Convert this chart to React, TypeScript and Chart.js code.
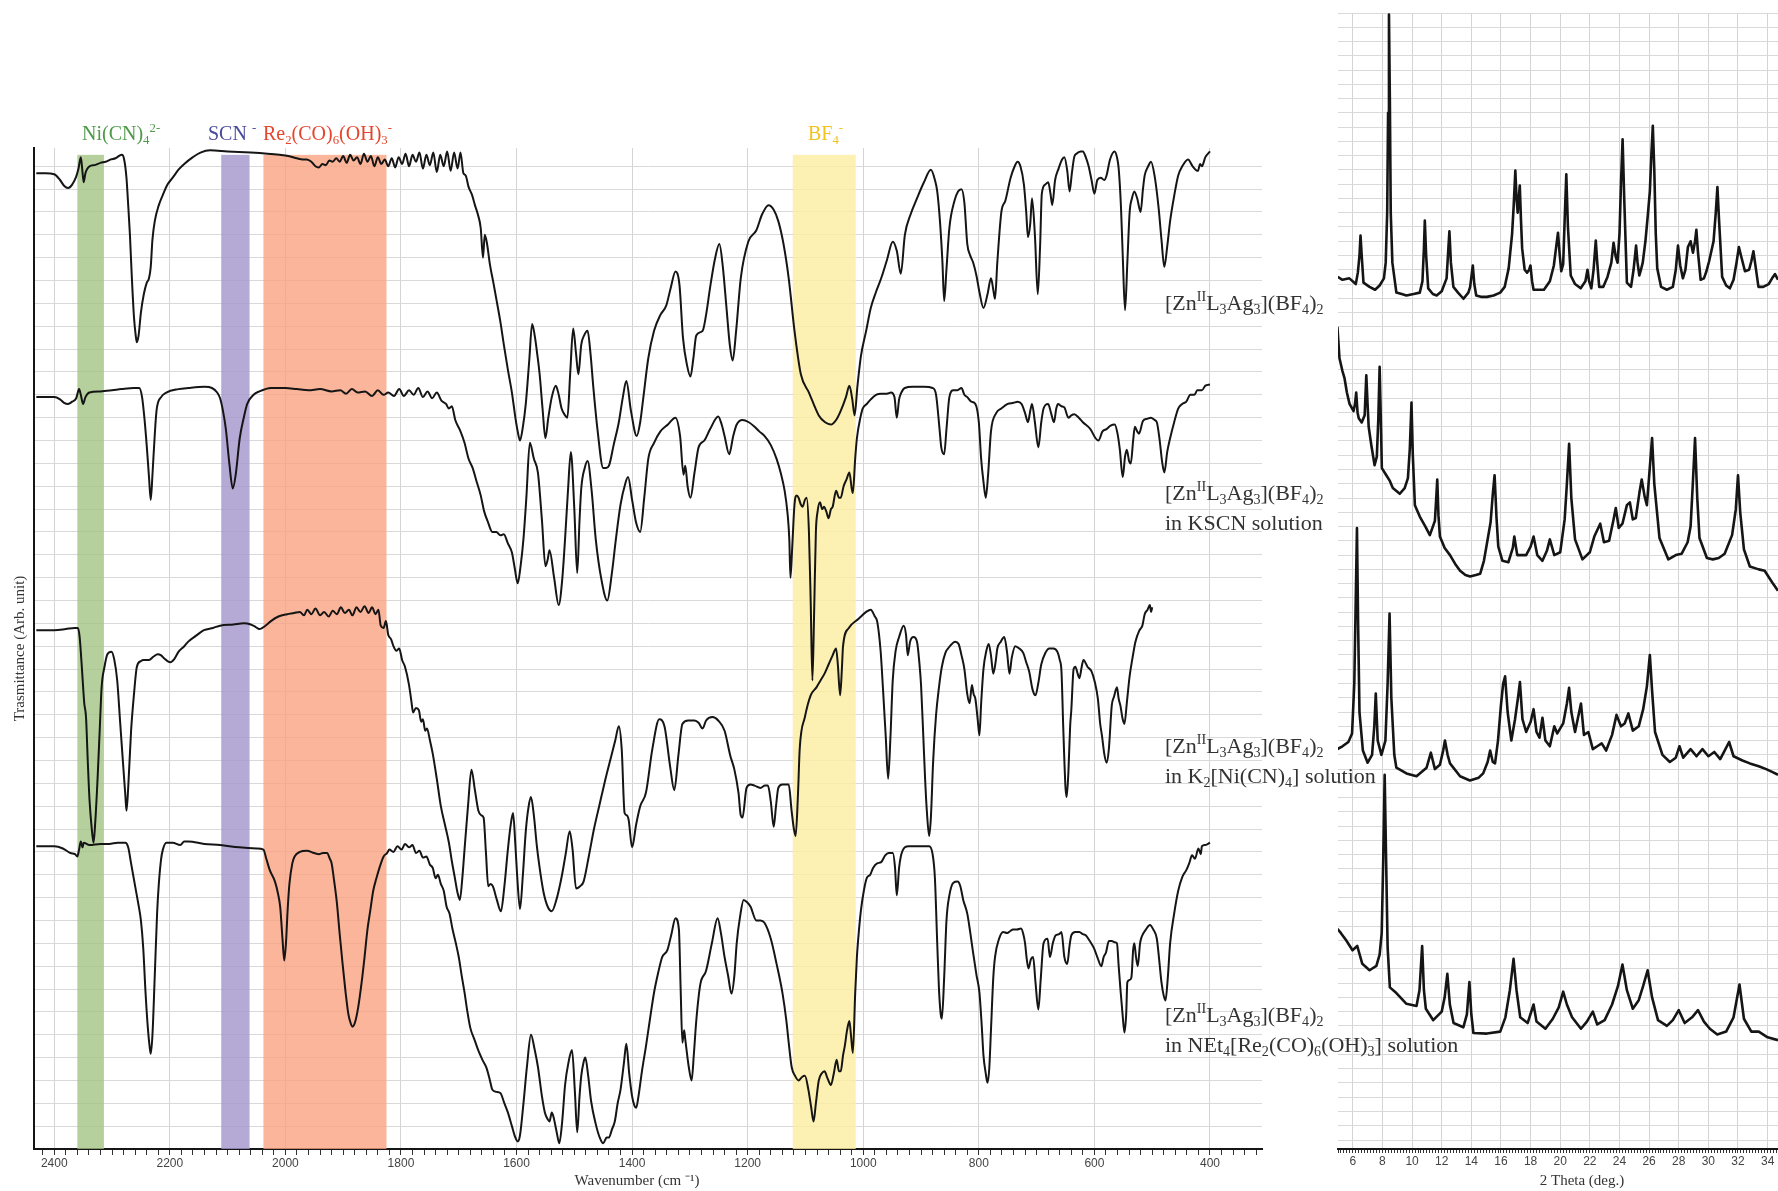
import React, { useEffect, useRef } from "react";
import { Chart, registerables } from "chart.js";

Chart.register(...registerables);

// ---------- IR spectra: [wavenumber (cm-1), transmittance (arb. unit, offset)] ----------
const irPristine: [number, number][] = [
  [2431, 42.7], [2415, 42.7], [2400, 42.65], [2390, 42.4], [2383, 42.15], [2376, 42.05], [2369, 42.2], [2362, 42.55],
  [2358, 42.9], [2354, 43.4], [2352, 43.0], [2349, 42.3], [2346, 42.7], [2339, 43.0], [2330, 43.05], [2320, 43.15],
  [2311, 43.2], [2302, 43.3], [2294, 43.35], [2288, 43.45], [2283, 43.5], [2279, 43.3], [2275, 42.5], [2272, 41.3],
  [2269, 40.0], [2266, 38.3], [2262, 36.4], [2259, 35.6], [2257, 35.3], [2254, 35.6], [2250, 36.6], [2245, 37.4],
  [2240, 37.9], [2236, 38.1], [2233, 38.6], [2230, 39.8], [2226, 40.6], [2219, 41.3], [2212, 41.75], [2204, 42.2],
  [2195, 42.5], [2185, 42.85], [2175, 43.1], [2160, 43.4], [2147, 43.6], [2130, 43.7], [2100, 43.65], [2060, 43.6],
  [2031, 43.55], [2010, 43.5], [1995, 43.45], [1980, 43.35], [1970, 43.3], [1963, 43.3], [1955, 43.2], [1948, 43.0],
  [1942, 42.95], [1936, 43.1], [1930, 43.05], [1924, 43.25], [1918, 43.2], [1912, 43.35], [1906, 43.2], [1900, 43.45],
  [1894, 43.15], [1888, 43.5], [1882, 43.25], [1876, 43.4], [1870, 43.1], [1864, 43.55], [1858, 43.2], [1852, 43.45],
  [1846, 43.0], [1840, 43.4], [1834, 43.1], [1828, 43.3], [1822, 43.0], [1816, 43.35], [1810, 42.95], [1804, 43.4],
  [1798, 43.1], [1792, 43.55], [1786, 43.0], [1780, 43.5], [1774, 43.2], [1768, 43.6], [1762, 42.9], [1756, 43.5],
  [1750, 43.05], [1744, 43.6], [1738, 42.75], [1732, 43.5], [1726, 43.0], [1720, 43.65], [1714, 42.8], [1708, 43.6],
  [1702, 42.9], [1697, 43.6], [1692, 42.7], [1688, 42.6], [1683, 42.1], [1677, 41.75], [1672, 41.3], [1667, 40.9],
  [1662, 40.3], [1658, 39.0], [1655, 40.0], [1651, 39.6], [1646, 38.7], [1640, 37.9], [1635, 37.2], [1628, 36.2],
  [1622, 35.2], [1615, 34.1], [1608, 33.1], [1602, 32.0], [1598, 31.4], [1594, 31.0], [1589, 31.6], [1584, 32.6],
  [1578, 34.5], [1573, 36.1], [1568, 35.5], [1564, 34.75], [1560, 33.9], [1555, 32.4], [1550, 31.1], [1545, 32.0],
  [1539, 32.9], [1532, 33.4], [1527, 33.0], [1522, 32.4], [1516, 32.1], [1512, 32.0], [1507, 34.0], [1502, 35.9],
  [1497, 34.8], [1493, 33.9], [1488, 35.2], [1483, 35.6], [1477, 35.8], [1472, 34.8], [1467, 33.3], [1460, 31.5],
  [1450, 29.8], [1445, 29.8], [1440, 29.9], [1432, 30.8], [1423, 31.8], [1416, 32.9], [1410, 33.6], [1402, 32.3],
  [1392, 31.2], [1386, 31.8], [1380, 33.0], [1372, 34.6], [1362, 35.8], [1351, 36.5], [1341, 36.9], [1333, 37.7],
  [1325, 38.4], [1318, 37.8], [1312, 35.5], [1305, 34.3], [1299, 33.8], [1294, 34.6], [1289, 35.6], [1278, 35.8],
  [1272, 36.5], [1265, 37.7], [1257, 38.9], [1249, 39.6], [1243, 38.6], [1237, 36.9], [1231, 35.2], [1226, 34.5],
  [1220, 35.8], [1212, 38.1], [1199, 39.7], [1185, 40.2], [1175, 40.9], [1164, 41.3], [1155, 41.1], [1147, 40.6],
  [1138, 39.6], [1129, 38.1], [1119, 35.8], [1108, 33.9], [1094, 33.1], [1077, 32.1], [1066, 31.8], [1056, 31.7],
  [1047, 31.9], [1039, 32.3], [1030, 32.9], [1024, 33.4], [1019, 32.8], [1015, 32.1], [1010, 33.4], [1004, 34.7],
  [995, 35.8], [987, 36.8], [978, 37.5], [969, 38.1], [959, 38.9], [949, 39.7], [942, 39.3], [935, 38.3], [928, 40.0],
  [918, 40.9], [907, 41.6], [895, 42.3], [883, 42.85], [876, 42.4], [872, 41.9], [867, 40.5], [863, 38.8], [860, 37.1],
  [856, 38.5], [851, 40.3], [842, 41.5], [836, 41.9], [830, 42.0], [825, 41.4], [820, 39.6], [815, 39.1], [810, 38.8],
  [804, 38.2], [799, 37.5], [792, 36.8], [785, 37.4], [779, 38.1], [775, 37.6], [772, 37.2], [768, 38.8], [761, 41.0],
  [754, 41.5], [745, 42.5], [738, 43.0], [733, 43.2], [728, 43.0], [722, 42.2], [718, 41.0], [715, 39.9], [711, 40.5],
  [708, 41.6], [703, 40.0], [698, 37.4], [694, 39.5], [691, 41.8], [685, 42.2], [680, 42.3], [676, 41.8], [673, 41.3],
  [668, 42.4], [662, 42.9], [656, 43.3], [652, 43.4], [647, 42.8], [643, 41.9], [639, 42.7], [635, 43.4], [631, 43.55],
  [624, 43.65], [620, 43.65], [615, 43.4], [610, 43.0], [605, 42.4], [600, 41.8], [595, 42.4], [589, 42.5], [583, 42.4],
  [579, 42.6], [573, 43.3], [565, 43.65], [561, 43.4], [558, 42.9], [554, 41.2], [551, 39.1], [547, 36.7], [543, 38.8],
  [539, 41.0], [535, 41.6], [531, 41.9], [526, 41.6], [520, 41.0], [516, 42.0], [513, 42.6], [507, 43.0], [502, 43.2],
  [496, 42.6], [489, 41.2], [484, 39.8], [479, 38.6], [474, 39.5], [469, 40.6], [462, 41.7], [455, 42.6], [448, 43.0],
  [438, 43.3], [430, 43.0], [421, 42.8], [417, 43.1], [414, 43.0], [408, 43.4], [400, 43.65],
];

const irKSCN: [number, number][] = [
  [2431, 32.9], [2400, 32.9], [2390, 32.8], [2383, 32.65], [2376, 32.6], [2369, 32.7], [2362, 32.85], [2357, 33.25],
  [2354, 33.0], [2350, 32.6], [2346, 32.9], [2339, 33.1], [2320, 33.15], [2300, 33.2], [2284, 33.25], [2262, 33.3],
  [2253, 33.3], [2248, 32.9], [2244, 32.0], [2240, 30.8], [2236, 29.4], [2233, 28.4], [2230, 29.5], [2228, 30.4],
  [2223, 32.3], [2215, 32.9], [2206, 33.1], [2185, 33.25], [2168, 33.3], [2140, 33.35], [2127, 33.3], [2118, 33.1],
  [2113, 32.85], [2108, 32.3], [2103, 31.5], [2097, 30.0], [2091, 28.9], [2086, 29.5], [2079, 31.1], [2072, 32.0],
  [2066, 32.6], [2055, 33.0], [2045, 33.15], [2025, 33.3], [2000, 33.3], [1980, 33.25], [1960, 33.2], [1940, 33.25],
  [1920, 33.15], [1905, 33.2], [1895, 33.05], [1885, 33.25], [1875, 33.1], [1862, 33.15], [1850, 32.95], [1840, 33.2],
  [1830, 33.0], [1822, 33.1], [1812, 32.95], [1803, 33.25], [1795, 32.95], [1786, 33.2], [1778, 33.0], [1770, 33.3],
  [1762, 32.9], [1754, 33.15], [1746, 32.85], [1738, 33.1], [1730, 32.75], [1722, 32.6], [1717, 32.4], [1712, 32.5],
  [1706, 31.9], [1697, 31.4], [1690, 30.9], [1683, 30.2], [1676, 29.8], [1669, 29.2], [1662, 28.6], [1656, 27.9],
  [1649, 27.4], [1642, 27.0], [1635, 27.0], [1628, 26.85], [1622, 26.9], [1615, 26.5], [1608, 26.1], [1603, 25.4],
  [1598, 24.75], [1593, 25.5], [1588, 26.7], [1583, 28.5], [1577, 30.9], [1570, 30.2], [1563, 29.6], [1556, 27.5],
  [1550, 25.5], [1546, 25.8], [1543, 26.2], [1535, 25.0], [1527, 23.8], [1521, 24.9], [1516, 26.7], [1511, 28.8],
  [1506, 30.5], [1500, 28.0], [1495, 25.2], [1491, 27.5], [1488, 28.9], [1482, 29.8], [1477, 30.1], [1470, 28.8],
  [1463, 26.7], [1453, 24.9], [1443, 24.0], [1435, 25.2], [1428, 26.7], [1420, 28.2], [1412, 29.1], [1407, 29.4],
  [1400, 28.4], [1393, 27.4], [1386, 27.0], [1379, 28.5], [1372, 30.2], [1362, 30.9], [1351, 31.4], [1338, 31.7],
  [1325, 32.0], [1317, 31.2], [1311, 29.5], [1308, 29.9], [1304, 29.0], [1299, 28.5], [1292, 29.6], [1285, 30.7],
  [1275, 31.0], [1265, 31.5], [1251, 32.05], [1245, 31.7], [1240, 31.2], [1232, 30.4], [1225, 31.2], [1219, 31.7],
  [1209, 31.9], [1198, 31.8], [1188, 31.6], [1180, 31.4], [1171, 31.2], [1160, 30.8], [1150, 30.2], [1143, 29.6],
  [1136, 28.8], [1131, 27.8], [1128, 26.7], [1126, 25.0], [1123, 26.3], [1119, 28.2], [1115, 28.6], [1112, 28.5],
  [1108, 28.2], [1105, 28.1], [1101, 28.4], [1098, 28.5], [1094, 27.0], [1091, 24.0], [1088, 20.5], [1085, 23.5],
  [1082, 27.0], [1079, 27.9], [1075, 28.3], [1071, 28.0], [1068, 28.1], [1064, 27.9], [1060, 27.6], [1056, 28.0],
  [1053, 28.1], [1047, 28.8], [1042, 28.5], [1039, 28.5], [1034, 29.0], [1029, 29.3], [1024, 29.6], [1020, 28.9],
  [1018, 28.7], [1014, 30.2], [1011, 31.1], [1005, 32.0], [1001, 32.4], [994, 32.6], [987, 32.8], [978, 33.0],
  [969, 33.05], [959, 33.05], [952, 33.1], [946, 32.9], [942, 32.0], [938, 32.8], [935, 33.05], [928, 33.3],
  [915, 33.35], [895, 33.35], [880, 33.3], [874, 33.0], [868, 31.5], [865, 30.7], [860, 30.4], [856, 31.5], [851, 32.9],
  [844, 33.2], [837, 33.2], [830, 33.3], [825, 33.0], [820, 32.9], [813, 32.7], [806, 32.6], [800, 31.8], [796, 30.2],
  [792, 29.2], [788, 28.5], [784, 29.5], [779, 31.4], [770, 32.2], [761, 32.4], [750, 32.6], [740, 32.65], [733, 32.7],
  [726, 32.6], [720, 32.2], [715, 31.8], [711, 32.3], [708, 32.6], [703, 31.8], [697, 30.7], [692, 31.8], [688, 32.4],
  [680, 32.6], [675, 32.2], [670, 31.8], [666, 32.4], [663, 32.6], [657, 32.5], [652, 32.45], [645, 32.0], [640, 32.1],
  [635, 32.15], [627, 32.0], [620, 31.8], [607, 31.5], [598, 31.1], [593, 31.0], [586, 31.4], [579, 31.5], [572, 31.65],
  [565, 31.7], [560, 31.3], [556, 30.6], [551, 29.4], [547, 30.3], [544, 30.6], [540, 30.1], [537, 30.0], [533, 31.0],
  [530, 31.6], [526, 31.4], [523, 31.3], [516, 31.85], [509, 31.95], [502, 32.0], [496, 31.9], [492, 31.8], [487, 31.0],
  [483, 30.1], [479, 29.6], [474, 30.5], [469, 31.1], [462, 31.8], [455, 32.4], [448, 32.6], [441, 32.7], [434, 33.0],
  [427, 33.0], [422, 33.2], [414, 33.2], [408, 33.4], [400, 33.45],
];

const irNiCN: [number, number][] = [
  [2431, 22.7], [2400, 22.7], [2380, 22.75], [2365, 22.8], [2359, 22.8], [2356, 22.4], [2352, 21.0], [2348, 19.5],
  [2345, 18.9], [2342, 17.0], [2339, 15.3], [2335, 14.0], [2332, 13.4], [2329, 14.3], [2325, 16.2], [2321, 18.5],
  [2318, 20.2], [2313, 21.1], [2308, 21.65], [2301, 21.76], [2296, 21.4], [2291, 20.5], [2286, 18.7], [2281, 16.9],
  [2277, 15.5], [2275, 14.8], [2272, 15.8], [2267, 18.3], [2262, 19.9], [2257, 21.1], [2250, 21.35], [2246, 21.4],
  [2236, 21.4], [2228, 21.55], [2221, 21.65], [2215, 21.6], [2209, 21.45], [2204, 21.35], [2199, 21.3], [2192, 21.45],
  [2185, 21.75], [2175, 22.0], [2168, 22.2], [2155, 22.45], [2141, 22.7], [2125, 22.8], [2113, 22.9], [2090, 22.95],
  [2072, 23.0], [2060, 22.95], [2052, 22.85], [2045, 22.75], [2040, 22.8], [2032, 22.95], [2025, 23.1], [2012, 23.3],
  [1997, 23.4], [1985, 23.45], [1975, 23.5], [1968, 23.35], [1962, 23.6], [1955, 23.4], [1948, 23.65], [1940, 23.35],
  [1933, 23.5], [1925, 23.3], [1918, 23.55], [1911, 23.4], [1904, 23.7], [1897, 23.45], [1890, 23.6], [1884, 23.35],
  [1877, 23.7], [1870, 23.5], [1863, 23.75], [1856, 23.45], [1850, 23.7], [1844, 23.4], [1839, 23.6], [1835, 22.9],
  [1830, 22.8], [1826, 23.1], [1822, 22.5], [1817, 22.3], [1813, 22.0], [1808, 21.8], [1803, 21.9], [1798, 21.4],
  [1793, 21.1], [1786, 20.3], [1782, 19.6], [1779, 19.1], [1774, 19.3], [1769, 19.2], [1765, 18.7], [1762, 18.8],
  [1758, 18.3], [1755, 18.4], [1750, 17.9], [1745, 17.3], [1738, 16.2], [1731, 15.0], [1724, 14.2], [1717, 13.4],
  [1712, 12.6], [1707, 11.9], [1702, 11.2], [1698, 10.9], [1694, 11.8], [1690, 13.1], [1684, 15.0], [1678, 16.6],
  [1672, 15.7], [1666, 14.8], [1661, 14.6], [1657, 14.5], [1653, 13.0], [1649, 11.5], [1645, 11.6], [1641, 11.5],
  [1634, 10.9], [1627, 10.4], [1621, 11.5], [1615, 13.1], [1610, 14.2], [1606, 14.7], [1602, 13.3], [1599, 12.0],
  [1594, 10.5], [1589, 12.0], [1584, 13.9], [1579, 15.0], [1575, 15.4], [1570, 14.6], [1565, 13.3], [1560, 12.3],
  [1553, 11.2], [1546, 10.6], [1539, 10.4], [1530, 11.0], [1522, 11.9], [1515, 12.9], [1508, 13.9], [1503, 13.1],
  [1497, 11.4], [1490, 11.5], [1484, 11.7], [1475, 12.8], [1466, 14.0], [1457, 15.0], [1446, 16.2], [1436, 17.2],
  [1429, 17.9], [1423, 18.5], [1418, 17.5], [1413, 14.7], [1409, 14.6], [1406, 14.4], [1400, 13.2], [1393, 14.2],
  [1386, 15.0], [1376, 15.6], [1365, 17.5], [1353, 18.8], [1344, 18.5], [1334, 16.7], [1327, 15.7], [1320, 17.2],
  [1313, 18.6], [1303, 18.75], [1292, 18.75], [1285, 18.65], [1278, 18.4], [1272, 18.75], [1261, 18.9], [1251, 18.75],
  [1240, 18.3], [1230, 17.2], [1223, 16.6], [1216, 15.6], [1212, 14.6], [1209, 14.5], [1202, 15.8], [1195, 15.95],
  [1188, 15.9], [1178, 15.8], [1170, 15.9], [1165, 15.9], [1160, 15.2], [1155, 14.1], [1151, 15.0], [1147, 15.8],
  [1140, 15.95], [1129, 15.95], [1124, 14.8], [1120, 14.0], [1117, 13.7], [1113, 15.5], [1110, 17.5], [1101, 18.9],
  [1091, 19.85], [1081, 20.2], [1074, 20.5], [1067, 20.8], [1060, 21.2], [1053, 21.6], [1047, 21.9], [1044, 21.2],
  [1040, 19.85], [1037, 21.0], [1035, 22.0], [1025, 22.8], [1008, 23.2], [995, 23.5], [987, 23.6], [980, 23.3],
  [976, 23.1], [970, 21.8], [966, 20.2], [961, 18.0], [957, 16.2], [953, 18.0], [949, 20.5], [944, 21.8], [938, 22.4],
  [930, 22.9], [926, 22.5], [923, 21.6], [919, 22.2], [913, 22.4], [907, 22.2], [903, 21.3], [900, 20.3], [896, 18.0],
  [893, 16.2], [890, 14.8], [886, 13.7], [883, 14.5], [879, 17.0], [874, 19.0], [869, 20.2], [864, 21.1], [858, 21.7],
  [850, 22.0], [841, 22.2], [835, 22.1], [830, 21.6], [825, 21.0], [820, 19.9], [816, 19.5], [812, 20.3], [809, 19.9],
  [806, 19.7], [802, 18.8], [799, 18.1], [796, 19.5], [792, 21.0], [787, 21.8], [783, 22.1], [779, 21.6], [775, 20.8],
  [771, 21.3], [768, 21.9], [762, 22.2], [756, 22.4], [751, 21.7], [747, 20.8], [743, 21.5], [737, 22.0], [730, 21.9],
  [723, 21.7], [718, 21.3], [713, 20.9], [707, 20.1], [702, 19.85], [697, 20.4], [692, 21.2], [685, 21.7], [678, 21.9],
  [671, 21.9], [664, 21.75], [660, 21.4], [657, 20.9], [654, 18.5], [652, 17.0], [650, 15.8], [648, 15.4], [645, 16.5],
  [642, 18.5], [640, 19.2], [636, 21.0], [633, 21.1], [629, 20.8], [626, 20.6], [622, 21.1], [619, 21.4], [612, 21.1],
  [605, 20.9], [599, 20.4], [594, 19.7], [590, 18.6], [587, 18.1], [583, 17.3], [579, 16.9], [575, 17.5], [570, 19.4],
  [566, 19.8], [561, 20.2], [558, 19.7], [555, 19.4], [551, 18.8], [548, 18.6], [544, 19.5], [539, 20.7], [534, 21.5],
  [529, 22.2], [522, 22.7], [517, 22.9], [513, 23.4], [508, 23.6], [504, 23.8], [502, 23.5], [500, 23.7],
];

const irReCO: [number, number][] = [
  [2431, 13.25], [2400, 13.25], [2385, 13.15], [2372, 12.95], [2364, 12.9], [2360, 12.8], [2357, 13.1], [2354, 13.45],
  [2351, 13.2], [2349, 13.4], [2339, 13.3], [2320, 13.35], [2305, 13.35], [2290, 13.4], [2277, 13.4], [2272, 13.2],
  [2267, 12.5], [2260, 11.5], [2255, 10.8], [2250, 10.0], [2246, 8.8], [2242, 6.85], [2238, 5.3], [2235, 4.5],
  [2233, 4.17], [2230, 5.0], [2226, 7.6], [2222, 10.3], [2219, 11.6], [2215, 12.7], [2212, 13.1], [2206, 13.4],
  [2195, 13.4], [2182, 13.3], [2175, 13.45], [2168, 13.45], [2140, 13.35], [2113, 13.3], [2080, 13.2], [2050, 13.15],
  [2038, 13.1], [2033, 12.7], [2027, 12.2], [2018, 11.7], [2013, 11.2], [2009, 10.6], [2005, 9.2], [2002, 8.25],
  [1999, 9.0], [1996, 10.5], [1993, 11.6], [1988, 12.5], [1984, 12.8], [1975, 13.0], [1963, 13.05], [1950, 12.95],
  [1942, 12.9], [1935, 12.95], [1928, 12.95], [1923, 12.7], [1920, 12.5], [1916, 11.8], [1911, 10.8], [1906, 9.4],
  [1901, 8.1], [1896, 6.9], [1891, 5.9], [1887, 5.5], [1884, 5.35], [1880, 5.5], [1874, 6.2], [1868, 7.3], [1863, 8.4],
  [1858, 9.6], [1853, 10.45], [1848, 11.3], [1843, 11.8], [1836, 12.4], [1830, 12.8], [1824, 12.95], [1820, 13.1],
  [1813, 13.0], [1806, 13.25], [1799, 13.1], [1793, 13.35], [1786, 13.2], [1780, 13.3], [1774, 12.95], [1768, 13.05],
  [1762, 12.75], [1756, 12.8], [1750, 12.45], [1745, 12.3], [1740, 11.85], [1736, 12.0], [1731, 11.6], [1726, 11.3],
  [1721, 10.6], [1716, 10.3], [1711, 9.65], [1705, 9.0], [1700, 8.4], [1695, 7.6], [1690, 6.85], [1685, 6.0], [1680, 5.3],
  [1673, 4.8], [1666, 4.3], [1659, 3.9], [1652, 3.55], [1646, 3.0], [1642, 2.6], [1635, 2.5], [1628, 2.45], [1621, 2.0],
  [1615, 1.6], [1608, 1.0], [1602, 0.5], [1598, 0.33], [1594, 0.6], [1588, 2.0], [1582, 3.6], [1575, 5.0], [1569, 4.4],
  [1563, 3.6], [1556, 2.3], [1551, 1.6], [1546, 1.3], [1543, 1.2], [1539, 1.6], [1536, 1.4], [1531, 0.8], [1526, 0.25],
  [1521, 1.2], [1516, 2.8], [1510, 3.8], [1504, 4.33], [1499, 2.5], [1495, 0.73], [1491, 2.3], [1488, 3.2], [1484, 3.8],
  [1481, 4.0], [1476, 3.2], [1471, 2.1], [1463, 1.1], [1456, 0.5], [1450, 0.25], [1444, 0.5], [1440, 0.5], [1435, 0.85],
  [1430, 1.2], [1425, 2.0], [1420, 2.6], [1414, 3.8], [1410, 4.6], [1405, 3.3], [1400, 2.3], [1396, 1.9], [1393, 1.8],
  [1389, 2.3], [1383, 3.4], [1376, 4.5], [1369, 5.7], [1362, 6.85], [1355, 7.7], [1348, 8.4], [1339, 8.7], [1332, 9.4],
  [1325, 10.1], [1319, 9.6], [1316, 7.0], [1313, 4.65], [1310, 5.2], [1308, 4.8], [1302, 3.6], [1297, 3.0], [1293, 4.2],
  [1289, 5.6], [1282, 7.2], [1272, 7.8], [1262, 9.0], [1252, 10.1], [1246, 9.4], [1240, 8.4], [1234, 7.6], [1228, 6.8],
  [1223, 7.6], [1219, 9.0], [1213, 10.2], [1207, 10.9], [1201, 10.8], [1195, 10.6], [1185, 10.0], [1178, 10.0],
  [1171, 9.9], [1160, 9.2], [1150, 8.1], [1140, 6.85], [1133, 5.6], [1129, 4.65], [1124, 3.6], [1118, 3.2], [1112, 3.0],
  [1106, 3.15], [1101, 3.2], [1095, 2.6], [1090, 1.8], [1086, 1.2], [1082, 2.0], [1077, 3.0], [1072, 3.3], [1067, 3.4],
  [1062, 3.1], [1056, 2.8], [1051, 3.3], [1046, 3.9], [1042, 3.4], [1039, 3.4], [1035, 4.1], [1032, 4.5], [1028, 5.2],
  [1024, 5.6], [1021, 4.9], [1018, 4.2], [1014, 6.8], [1011, 8.4], [1007, 9.7], [1004, 10.45], [999, 11.3], [994, 11.85],
  [988, 12.0], [983, 12.3], [976, 12.5], [969, 12.55], [962, 12.85], [956, 12.95], [949, 12.95], [945, 12.3], [942, 11.1],
  [938, 12.3], [935, 12.8], [928, 13.2], [921, 13.25], [900, 13.25], [886, 13.25], [880, 12.9], [876, 11.85], [872, 9.0],
  [869, 7.0], [866, 5.9], [864, 5.7], [860, 7.5], [856, 10.0], [851, 11.1], [844, 11.65], [837, 11.7], [832, 11.5],
  [827, 10.9], [820, 10.3], [815, 9.5], [810, 8.6], [804, 7.6], [799, 6.85], [795, 5.4], [792, 4.1], [788, 3.3],
  [785, 2.9], [782, 3.5], [779, 5.2], [775, 7.5], [772, 8.4], [765, 9.2], [758, 9.5], [751, 9.45], [745, 9.55],
  [741, 9.6], [734, 9.6], [727, 9.65], [723, 9.4], [720, 9.0], [717, 8.3], [714, 7.9], [710, 8.3], [706, 8.4], [702, 7.3],
  [697, 6.1], [693, 7.4], [688, 9.0], [681, 9.2], [677, 8.4], [672, 9.0], [667, 9.35], [661, 9.4], [657, 9.5], [652, 8.4],
  [647, 8.1], [643, 8.9], [640, 9.35], [633, 9.5], [626, 9.5], [620, 9.4], [615, 9.35], [608, 9.1], [601, 8.8], [595, 8.4],
  [588, 8.0], [584, 8.4], [580, 8.6], [575, 9.1], [570, 9.1], [565, 9.05], [561, 9.0], [558, 8.0], [555, 7.0], [551, 5.8],
  [548, 5.1], [545, 5.9], [543, 7.3], [539, 7.4], [536, 7.5], [533, 8.7], [531, 9.0], [528, 8.4], [525, 8.0], [521, 9.0],
  [518, 9.3], [511, 9.6], [504, 9.8], [498, 9.6], [492, 9.2], [488, 8.3], [484, 7.3], [480, 6.7], [477, 6.5], [473, 7.5],
  [469, 9.0], [462, 10.3], [455, 11.3], [448, 11.9], [441, 12.2], [436, 12.5], [431, 12.85], [426, 12.7], [420, 13.15],
  [416, 12.9], [414, 13.25], [408, 13.3], [400, 13.4],
];

// Highlighted anion bands (cm-1)
const bandFrom = [2360, 2111, 2038, 1122];
const bandTo = [2314, 2062, 1825, 1013];
const bandFill = ["rgba(160,195,130,0.78)", "rgba(165,150,205,0.82)", "rgba(248,160,125,0.78)", "rgba(252,236,160,0.8)"];
const bandInk = ["#4f9a4a", "#4a4a9c", "#e4452c", "#f2c21e"];

// ---------- PXRD patterns: [2 theta (deg), intensity (arb. unit, offset)] ----------
const xrdPristine: [number, number][] = [
  [4.98, 60.5], [5.3, 60.3], [5.77, 60.4], [6.2, 60.0], [6.34, 60.8], [6.45, 62.0], [6.52, 63.4], [6.6, 62.0],
  [6.72, 60.1], [7.13, 59.8], [7.5, 59.6], [7.81, 59.9], [8.1, 60.4], [8.22, 61.5], [8.32, 65], [8.38, 72], [8.44, 78.9],
  [8.5, 73], [8.56, 65], [8.67, 61.5], [8.94, 59.4], [9.3, 59.3], [9.62, 59.2], [10.1, 59.3], [10.52, 59.4], [10.7, 60.2],
  [10.8, 62.5], [10.86, 64.45], [10.95, 62.0], [11.09, 59.7], [11.4, 59.3], [11.66, 59.2], [12.0, 59.5], [12.33, 60.4],
  [12.45, 62.5], [12.52, 63.7], [12.62, 61.5], [12.79, 59.8], [13.1, 59.4], [13.47, 58.97], [13.8, 59.4], [13.92, 59.8],
  [14.1, 61.3], [14.2, 60.0], [14.33, 59.2], [14.7, 59.1], [15.05, 59.1], [15.5, 59.2], [15.95, 59.4], [16.25, 59.8],
  [16.52, 61.1], [16.75, 63.5], [16.86, 65.5], [16.97, 67.95], [17.05, 66.0], [17.13, 65.0], [17.2, 66.0], [17.27, 66.9],
  [17.35, 64.5], [17.43, 62.5], [17.6, 61.0], [17.76, 60.8], [17.9, 61.0], [17.99, 61.3], [18.1, 60.2], [18.2, 59.6],
  [18.6, 59.6], [18.9, 59.6], [19.3, 60.2], [19.57, 61.3], [19.75, 62.8], [19.85, 63.6], [19.97, 62.0], [20.07, 60.9],
  [20.2, 61.4], [20.3, 64.5], [20.41, 67.7], [20.52, 64.0], [20.71, 60.6], [21.0, 60.0], [21.38, 59.7], [21.7, 60.2],
  [21.84, 61.0], [21.95, 60.2], [22.1, 59.7], [22.25, 61.0], [22.4, 63.05], [22.5, 61.5], [22.63, 59.8], [22.9, 59.8],
  [23.19, 60.5], [23.45, 61.5], [23.6, 62.9], [23.75, 61.9], [23.87, 61.5], [24.0, 63.5], [24.1, 67.0], [24.21, 70.15],
  [24.32, 66.0], [24.5, 60.1], [24.78, 59.8], [24.95, 61.0], [25.12, 62.7], [25.22, 61.5], [25.34, 60.6], [25.45, 61.0],
  [25.57, 61.5], [25.75, 63.0], [25.91, 64.8], [26.05, 66.5], [26.15, 69.0], [26.25, 71.1], [26.35, 68.0], [26.45, 63.5],
  [26.55, 61.1], [26.81, 59.8], [27.2, 59.6], [27.6, 59.8], [27.8, 61.0], [27.95, 62.7], [28.1, 61.3], [28.28, 60.4],
  [28.45, 61.0], [28.62, 62.6], [28.8, 63.0], [28.96, 62.2], [29.1, 63.0], [29.19, 63.8], [29.3, 62.2], [29.48, 60.3],
  [29.7, 60.4], [29.87, 60.9], [30.05, 61.6], [30.2, 62.3], [30.35, 63.0], [30.5, 65.0], [30.61, 66.8], [30.72, 64.5],
  [30.93, 60.5], [31.2, 59.9], [31.45, 59.7], [31.7, 60.3], [31.9, 61.5], [32.06, 62.6], [32.2, 62.0], [32.47, 60.9],
  [32.75, 61.0], [32.9, 61.6], [33.04, 62.3], [33.15, 61.5], [33.38, 59.8], [33.7, 59.8], [34.07, 60.0], [34.3, 60.4],
  [34.5, 60.7], [34.7, 60.3],
];

const xrdKSCN: [number, number][] = [
  [4.96, 57.0], [5.1, 54.8], [5.3, 53.9], [5.44, 53.4], [5.6, 52.4], [5.78, 51.6], [6.05, 51.1], [6.15, 51.6],
  [6.23, 52.4], [6.32, 51.0], [6.4, 50.6], [6.6, 50.3], [6.8, 50.8], [6.91, 53.6], [7.0, 51.5], [7.07, 50.0],
  [7.25, 48.7], [7.47, 47.3], [7.62, 47.9], [7.72, 50.5], [7.81, 54.2], [7.88, 51.0], [7.96, 47.1], [8.26, 46.6],
  [8.5, 46.2], [8.7, 45.7], [9.17, 45.3], [9.5, 45.7], [9.72, 46.4], [9.85, 48.5], [9.96, 51.7], [10.05, 48.0],
  [10.19, 44.5], [10.52, 43.7], [10.9, 43.0], [11.2, 42.4], [11.54, 43.4], [11.62, 44.8], [11.7, 46.3], [11.78, 43.8],
  [11.88, 42.3], [12.2, 41.5], [12.56, 41.0], [12.9, 40.4], [13.24, 39.9], [13.6, 39.6], [13.92, 39.5], [14.3, 39.6],
  [14.6, 39.7], [14.85, 40.6], [15.05, 41.8], [15.3, 43.3], [15.45, 45.3], [15.57, 46.6], [15.7, 43.6], [15.82, 41.6],
  [16.1, 40.6], [16.5, 40.5], [16.8, 41.5], [16.9, 42.3], [17.1, 41.0], [17.7, 41.0], [18.0, 41.6], [18.2, 42.3],
  [18.45, 41.0], [18.8, 40.6], [19.1, 41.3], [19.3, 42.1], [19.6, 41.0], [20.0, 41.2], [20.3, 43.5], [20.45, 46.0],
  [20.6, 48.8], [20.75, 45.0], [21.0, 42.1], [21.5, 40.7], [22.0, 41.2], [22.3, 42.3], [22.7, 43.2], [22.95, 41.9],
  [23.3, 42.0], [23.6, 43.5], [23.75, 44.3], [23.95, 42.9], [24.2, 43.2], [24.5, 44.5], [24.7, 44.7], [24.9, 43.5],
  [25.1, 43.6], [25.35, 45.4], [25.5, 46.3], [25.7, 45.1], [25.85, 44.5], [26.0, 46.5], [26.2, 49.2], [26.35, 46.0],
  [26.7, 42.2], [27.3, 40.7], [27.8, 41.0], [28.2, 41.1], [28.6, 41.9], [28.8, 43.0], [28.95, 46.0], [29.1, 49.2],
  [29.25, 45.0], [29.4, 42.2], [29.9, 40.8], [30.3, 40.7], [30.7, 40.8], [31.1, 41.1], [31.6, 42.4], [31.85, 44.2],
  [32.0, 46.6], [32.15, 44.0], [32.4, 41.4], [32.8, 40.2], [33.4, 40.0], [33.8, 39.9], [34.3, 39.1], [34.7, 38.5],
];

const xrdNiCN: [number, number][] = [
  [4.96, 27.4], [5.3, 27.6], [5.7, 27.9], [5.95, 28.5], [6.1, 32], [6.2, 38], [6.28, 42.9], [6.36, 36], [6.45, 30],
  [6.68, 27.3], [7.0, 26.45], [7.3, 27.0], [7.45, 29.0], [7.55, 31.3], [7.68, 28.0], [7.93, 27.0], [8.2, 28.0],
  [8.35, 32.0], [8.48, 36.9], [8.6, 31.0], [8.8, 27.0], [8.94, 26.1], [9.62, 25.7], [10.3, 25.5], [10.98, 26.1],
  [11.27, 27.15], [11.54, 26.0], [11.88, 26.3], [12.1, 27.3], [12.22, 28.0], [12.4, 27.0], [12.56, 26.4], [13.24, 25.5],
  [13.9, 25.2], [14.5, 25.4], [14.8, 25.7], [15.1, 26.5], [15.27, 27.3], [15.45, 26.5], [15.6, 26.4], [15.8, 28.0],
  [16.0, 30.5], [16.15, 32.0], [16.28, 32.5], [16.45, 30.0], [16.7, 28.0], [16.95, 29.5], [17.15, 31.0], [17.28, 32.1],
  [17.45, 29.5], [17.7, 28.6], [18.0, 29.3], [18.2, 30.2], [18.4, 28.6], [18.6, 28.2], [18.8, 29.6], [19.0, 28.0],
  [19.3, 27.6], [19.6, 29.0], [19.8, 28.5], [20.2, 29.2], [20.45, 30.6], [20.6, 31.7], [20.75, 30.0], [21.0, 28.6],
  [21.4, 30.6], [21.6, 28.4], [21.9, 28.6], [22.2, 27.4], [22.5, 27.6], [22.8, 27.8], [23.1, 27.3], [23.5, 28.4],
  [23.8, 29.8], [24.1, 29.0], [24.35, 29.2], [24.6, 29.9], [24.9, 28.7], [25.3, 29.0], [25.6, 30.2], [25.85, 31.8],
  [26.05, 34.0], [26.2, 31.5], [26.4, 28.6], [26.9, 27.0], [27.4, 26.5], [27.8, 26.8], [28.05, 27.6], [28.3, 26.8],
  [28.8, 27.4], [29.2, 26.9], [29.6, 27.4], [30.0, 26.9], [30.4, 27.2], [30.8, 26.7], [31.1, 27.3], [31.4, 27.9],
  [31.7, 26.9], [32.3, 26.6], [32.8, 26.4], [33.4, 26.2], [33.9, 26.0], [34.3, 25.8], [34.7, 25.6],
];

const xrdReCO: [number, number][] = [
  [4.96, 14.8], [5.2, 14.5], [5.55, 14.0], [5.98, 13.3], [6.3, 13.6], [6.64, 12.35], [7.13, 11.9], [7.59, 12.2],
  [7.81, 13.0], [7.95, 14.5], [8.05, 19.5], [8.15, 25.6], [8.25, 19.5], [8.35, 13.5], [8.5, 10.7], [8.94, 10.3],
  [9.62, 9.55], [10.3, 9.4], [10.5, 10.5], [10.68, 13.6], [10.8, 10.5], [10.93, 9.2], [11.43, 8.4], [12.0, 9.0],
  [12.2, 10.0], [12.38, 11.65], [12.55, 9.5], [12.8, 8.2], [13.46, 7.9], [13.7, 8.8], [13.87, 11.07], [14.0, 8.8],
  [14.14, 7.5], [15.05, 7.46], [15.95, 7.6], [16.3, 8.6], [16.6, 10.5], [16.85, 12.7], [17.05, 10.5], [17.3, 8.6],
  [17.8, 8.2], [18.2, 9.5], [18.4, 8.3], [19.0, 7.8], [19.5, 8.5], [19.9, 9.3], [20.2, 10.4], [20.45, 9.5], [20.8, 8.6],
  [21.4, 7.8], [21.8, 8.3], [22.2, 9.0], [22.5, 8.1], [23.0, 8.4], [23.5, 9.5], [23.9, 10.8], [24.2, 12.3], [24.5, 10.5],
  [24.9, 9.2], [25.3, 9.8], [25.6, 10.8], [25.9, 11.9], [26.2, 10.0], [26.6, 8.4], [27.2, 8.0], [27.6, 8.4], [28.0, 9.1],
  [28.4, 8.2], [28.9, 8.6], [29.3, 9.1], [29.7, 8.3], [30.1, 7.8], [30.6, 7.4], [31.2, 7.6], [31.7, 8.6], [32.1, 10.9],
  [32.4, 8.5], [32.9, 7.6], [33.4, 7.6], [34.0, 7.2], [34.7, 7.0],
];

// ---------- text ----------
type Run = [string, number]; // 0 = normal, 1 = subscript, 2 = superscript
const zn: Run[] = [["[Zn", 0], ["II", 2], ["L", 0], ["3", 1], ["Ag", 0], ["3", 1], ["](BF", 0], ["4", 1], [")", 0], ["2", 1]];
const sampleLabels: Run[][][] = [
  [zn],
  [zn, [["in KSCN solution", 0]]],
  [zn, [["in K", 0], ["2", 1], ["[Ni(CN)", 0], ["4", 1], ["] solution", 0]]],
  [zn, [["in NEt", 0], ["4", 1], ["[Re", 0], ["2", 1], ["(CO)", 0], ["6", 1], ["(OH)", 0], ["3", 1], ["] solution", 0]]],
];
const sampleLabelX = 1165;
const sampleLabelY = [310, 500, 753, 1022];
const bandLabels: Run[][] = [
  [["Ni(CN)", 0], ["4", 1], ["2-", 2]],
  [["SCN ", 0], ["-", 2]],
  [["Re", 0], ["2", 1], ["(CO)", 0], ["6", 1], ["(OH)", 0], ["3", 1], ["-", 2]],
  [["BF", 0], ["4", 1], ["-", 2]],
];
const bandLabelX = [82, 208, 263, 808];

const SERIF = '"Liberation Serif", "Times New Roman", serif';
const SANS = '"Liberation Sans", Arial, sans-serif';

function drawRich(ctx: CanvasRenderingContext2D, runs: Run[], x: number, y: number, size: number, color: string) {
  let cx = x;
  ctx.fillStyle = color;
  ctx.textBaseline = "alphabetic";
  ctx.textAlign = "left";
  for (const [t, m] of runs) {
    const s = m === 0 ? size : size * 0.64;
    ctx.font = `${s}px ${SERIF}`;
    const dy = m === 1 ? size * 0.2 : m === 2 ? -size * 0.42 : 0;
    ctx.fillText(t, cx, y + dy);
    cx += ctx.measureText(t).width;
  }
}

const toXY = (pts: [number, number][]) => pts.map(([x, y]) => ({ x, y }));

function range(from: number, to: number, step: number): number[] {
  const out: number[] = [];
  const n = Math.round((to - from) / step);
  for (let i = 0; i <= n; i++) out.push(Math.round((from + i * step) * 1000) / 1000);
  return out;
}

export default function App() {
  const irRef = useRef<HTMLCanvasElement>(null);
  const xrdRef = useRef<HTMLCanvasElement>(null);

  useEffect(() => {
    const lineStyle = {
      borderColor: "#151515",
      borderWidth: 2,
      pointRadius: 0,
      cubicInterpolationMode: "monotone" as const,
      fill: false,
    };

    const irDecor = {
      id: "irDecor",
      beforeDatasetsDraw(chart: any) {
        const { ctx, chartArea, scales } = chart;
        ctx.save();
        const top = scales.y.getPixelForValue(43.5);
        bandFrom.forEach((f, i) => {
          const x1 = scales.x.getPixelForValue(f);
          const x2 = scales.x.getPixelForValue(bandTo[i]);
          ctx.fillStyle = bandFill[i];
          ctx.fillRect(x1, top, x2 - x1, chartArea.bottom - top);
        });
        ctx.restore();
      },
      afterDraw(chart: any) {
        const { ctx } = chart;
        ctx.save();
        bandLabels.forEach((runs, i) => drawRich(ctx, runs, bandLabelX[i], 140, 20, bandInk[i]));
        sampleLabels.forEach((lines, i) => {
          lines.forEach((runs, j) => drawRich(ctx, runs, sampleLabelX, sampleLabelY[i] + j * 29.5, 22, "#333"));
        });
        ctx.fillStyle = "#333";
        ctx.font = `15px ${SERIF}`;
        ctx.textAlign = "center";
        ctx.textBaseline = "middle";
        ctx.fillText("Wavenumber (cm ⁻¹)", 637, 1181);
        ctx.restore();
      },
    };

    const irTicks = range(320, 2420, 20);
    const ir = new Chart(irRef.current!, {
      type: "line",
      data: {
        datasets: [irPristine, irKSCN, irNiCN, irReCO].map((d) => ({ data: toXY(d), ...lineStyle })),
      },
      options: {
        animation: false,
        responsive: false,
        events: [],
        parsing: false as any,
        layout: { padding: { top: 148, right: 516, left: 0, bottom: 0 } },
        plugins: { legend: { display: false }, tooltip: { enabled: false } },
        scales: {
          x: {
            type: "linear",
            reverse: true,
            min: 310,
            max: 2435,
            afterBuildTicks: (s: any) => {
              s.ticks = irTicks.map((value) => ({ value }));
            },
            afterFit: (s: any) => {
              s.height = 42;
            },
            ticks: {
              autoSkip: false,
              maxRotation: 0,
              includeBounds: false,
              padding: 1,
              color: "#444",
              font: { family: SANS, size: 12 },
              callback: (v: any) => (Math.round(v) % 200 === 0 ? String(v) : ""),
            },
            grid: {
              color: (c: any) => (c.tick && Math.round(c.tick.value) % 200 === 0 ? "#d4d4d4" : "rgba(0,0,0,0)"),
              tickColor: "#333",
              tickLength: 6,
            },
            border: { color: "#151515", width: 2 },
          },
          y: {
            type: "linear",
            min: 0,
            max: 43.8,
            afterBuildTicks: (s: any) => {
              s.ticks = range(0, 43, 1).map((value) => ({ value }));
            },
            afterFit: (s: any) => {
              s.width = 34;
            },
            ticks: { display: false },
            grid: { color: "#d9d9d9", drawTicks: false },
            border: { color: "#151515", width: 2 },
            title: {
              display: true,
              text: "Trasmittance (Arb. unit)",
              color: "#333",
              font: { family: SERIF, size: 15 },
              padding: { top: 11, bottom: 0 },
            },
          },
        },
      },
      plugins: [irDecor],
    } as any);

    const xrdDecor = {
      id: "xrdDecor",
      afterDraw(chart: any) {
        const { ctx } = chart;
        ctx.save();
        ctx.fillStyle = "#333";
        ctx.font = `15px ${SERIF}`;
        ctx.textAlign = "center";
        ctx.textBaseline = "middle";
        ctx.fillText("2 Theta (deg.)", 282, 1181);
        ctx.restore();
      },
    };

    const xrdTicks = range(5.0, 34.6, 0.2);
    const xrd = new Chart(xrdRef.current!, {
      type: "line",
      data: {
        datasets: [xrdPristine, xrdKSCN, xrdNiCN, xrdReCO].map((d) => ({
          data: toXY(d),
          ...lineStyle,
          borderWidth: 2.6,
          borderJoinStyle: "round" as const,
          cubicInterpolationMode: "default" as const,
          tension: 0,
        })),
      },
      options: {
        animation: false,
        responsive: false,
        events: [],
        parsing: false as any,
        layout: { padding: { top: 13, right: 0, left: 0, bottom: 0 } },
        plugins: { legend: { display: false }, tooltip: { enabled: false } },
        scales: {
          x: {
            type: "linear",
            min: 5.0,
            max: 34.7,
            afterBuildTicks: (s: any) => {
              s.ticks = xrdTicks.map((value) => ({ value }));
            },
            afterFit: (s: any) => {
              s.height = 42;
            },
            ticks: {
              autoSkip: false,
              maxRotation: 0,
              includeBounds: false,
              padding: 1,
              color: "#444",
              font: { family: SANS, size: 12 },
              callback: (v: any) => {
                const r = Math.round(v);
                return Math.abs(v - r) < 1e-6 && r % 2 === 0 ? String(r) : "";
              },
            },
            grid: {
              color: (c: any) => {
                const v = c.tick ? c.tick.value : 0;
                const r = Math.round(v);
                return Math.abs(v - r) < 1e-6 && r % 2 === 0 ? "#d4d4d4" : "rgba(0,0,0,0)";
              },
              tickColor: "#333",
              tickLength: 4,
            },
            border: { color: "#151515", width: 2 },
          },
          y: {
            type: "linear",
            min: -0.63,
            max: 79.0,
            afterBuildTicks: (s: any) => {
              s.ticks = range(0, 79, 1).map((value) => ({ value }));
            },
            afterFit: (s: any) => {
              s.width = 38;
            },
            ticks: { display: false },
            grid: { color: "#d9d9d9", drawTicks: false },
            border: { display: false },
          },
        },
      },
      plugins: [xrdDecor],
    } as any);

    return () => {
      ir.destroy();
      xrd.destroy();
    };
  }, []);

  return (
    <div style={{ position: "absolute", left: 0, top: 0, width: 1778, height: 1191, background: "#fff", overflow: "hidden" }}>
      <canvas ref={xrdRef} width={478} height={1191} style={{ position: "absolute", left: 1300, top: 0, width: 478, height: 1191 }} />
      <canvas ref={irRef} width={1778} height={1191} style={{ position: "absolute", left: 0, top: 0, width: 1778, height: 1191 }} />
    </div>
  );
}
